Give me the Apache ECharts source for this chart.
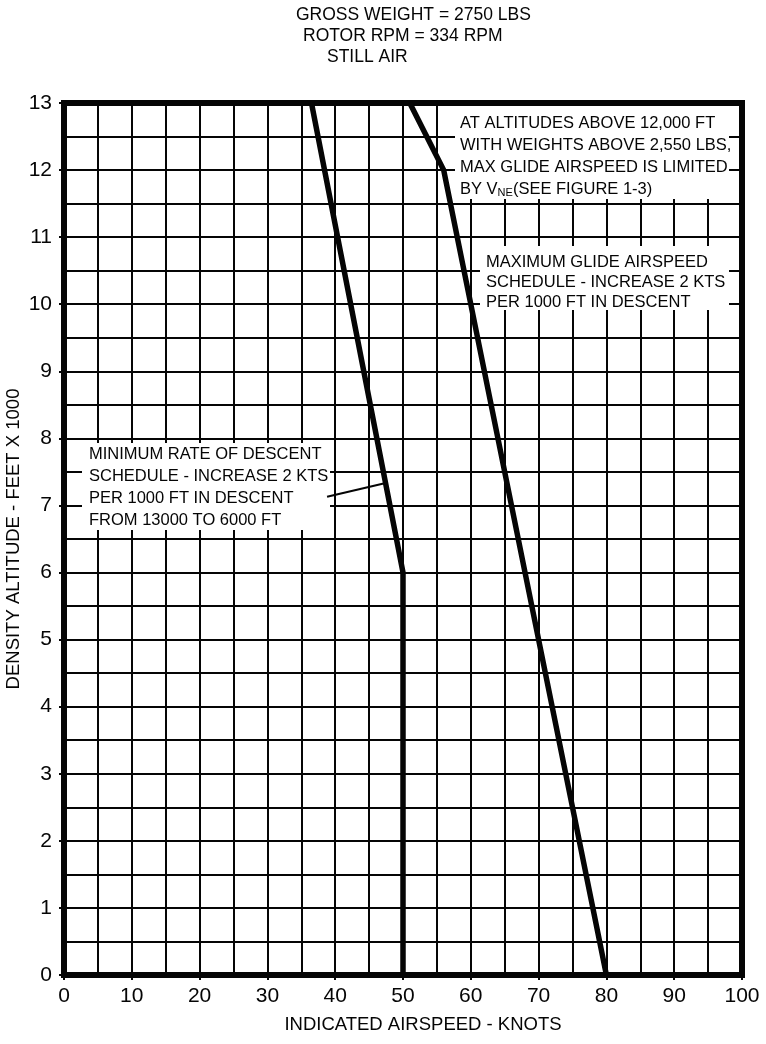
<!DOCTYPE html>
<html>
<head>
<meta charset="utf-8">
<title>Glide Distance Chart</title>
<script src="https://cdn.jsdelivr.net/npm/echarts@6/dist/echarts.min.js"></script>
<style>
  html, body { margin: 0; padding: 0; background: #fff; }
  #chart { width: 766px; height: 1044px; }
</style>
</head>
<body>
<div id="chart"></div>
<script>
// Axis ranges and tick steps (knots, feet x 1000)
const airspeedTicks = [0, 10, 20, 30, 40, 50, 60, 70, 80, 90, 100];
const altitudeTicks = [0, 1, 2, 3, 4, 5, 6, 7, 8, 9, 10, 11, 12, 13];

// Minimum rate of descent schedule: [airspeed kts, altitude x1000 ft]
const minDescentSpeed = [36.5, 50, 50];
const minDescentAlt   = [13, 6, 0];

// Maximum glide airspeed schedule (VNE-limited above 12,000 ft)
const maxGlideSpeed = [51, 56, 80];
const maxGlideAlt   = [13, 12, 0];

// Leader arrow from the minimum-descent note to its curve
const arrowSpeed = [38.8, 47.3];
const arrowAlt   = [7.13, 7.33];

const titleLines = ['GROSS WEIGHT = 2750 LBS', 'ROTOR RPM = 334 RPM', 'STILL AIR'];

const FONT = '"Liberation Sans", Arial, Helvetica, sans-serif';
const NARROW = '"Liberation Sans Narrow", "Arial Narrow", "Liberation Sans", Arial, sans-serif';
const INK = '#050505';

const pairs = (xs, ys) => xs.map((x, i) => [x, ys[i]]);

const chart = echarts.init(document.getElementById('chart'), null, { renderer: 'canvas' });

const gridLine = { color: INK, width: 2 };

chart.setOption({
  animation: false,
  backgroundColor: '#fff',
  grid: {
    left: 64, right: 24, top: 103, bottom: 69,
    outerBoundsMode: 'none',
    containLabel: false,
    show: true, borderColor: INK, borderWidth: 6, backgroundColor: 'transparent'
  },
  xAxis: {
    type: 'value',
    min: airspeedTicks[0],
    max: airspeedTicks[airspeedTicks.length - 1],
    interval: airspeedTicks[1] - airspeedTicks[0],
    name: 'INDICATED AIRSPEED - KNOTS',
    nameLocation: 'middle',
    nameGap: 40,
    nameMoveOverlap: false,
    nameTextStyle: { fontFamily: FONT, fontSize: 18.5, color: INK, padding: [0, 0, 0, 40] },
    axisLine: { show: false },
    axisTick: { show: true, length: 5, lineStyle: { color: INK, width: 2 } },
    axisLabel: { margin: 11, fontFamily: NARROW, fontSize: 21, color: INK },
    splitLine: { show: true, lineStyle: gridLine },
    minorTick: { show: false, splitNumber: 2 },
    minorSplitLine: { show: true, lineStyle: gridLine }
  },
  yAxis: {
    type: 'value',
    min: altitudeTicks[0],
    max: altitudeTicks[altitudeTicks.length - 1],
    interval: altitudeTicks[1] - altitudeTicks[0],
    name: 'DENSITY ALTITUDE - FEET X 1000',
    nameLocation: 'middle',
    nameGap: 41,
    nameMoveOverlap: false,
    nameTextStyle: { fontFamily: FONT, fontSize: 18.5, color: INK },
    axisLine: { show: false },
    axisTick: { show: true, length: 5, lineStyle: { color: INK, width: 2 } },
    axisLabel: { margin: 12, fontFamily: NARROW, fontSize: 21, color: INK },
    splitLine: { show: true, lineStyle: gridLine },
    minorTick: { show: false, splitNumber: 2 },
    minorSplitLine: { show: true, lineStyle: gridLine }
  },
  graphic: [
    // chart heading
    { type: 'text', left: 296, top: 6, z: 5,
      style: { text: titleLines[0], font: '17.5px ' + FONT, fill: INK } },
    { type: 'text', left: 303, top: 27, z: 5,
      style: { text: titleLines[1], font: '17.5px ' + FONT, fill: INK } },
    { type: 'text', left: 327, top: 48, z: 5,
      style: { text: titleLines[2], font: '17.5px ' + FONT, fill: INK } },

    // note: VNE limit above 12,000 ft
    { type: 'rect', z: 1, shape: { x: 455, y: 106, width: 274, height: 93 },
      style: { fill: '#fff' } },
    { type: 'text', x: 460, y: 112, z: 3,
      style: {
        text: 'AT ALTITUDES ABOVE 12,000 FT\nWITH WEIGHTS ABOVE 2,550 LBS,\nMAX GLIDE AIRSPEED IS LIMITED\nBY V{sub|NE}(SEE FIGURE 1-3)',
        font: '16.5px ' + FONT, fill: INK, lineHeight: 22,
        rich: { sub: { fontSize: 11, fontFamily: FONT, fill: INK, padding: [8, 0, 0, 0] } }
      } },

    // note: maximum glide schedule
    { type: 'rect', z: 1, shape: { x: 480, y: 246, width: 249, height: 64 },
      style: { fill: '#fff' } },
    { type: 'text', x: 486, y: 252, z: 3,
      style: {
        text: 'MAXIMUM GLIDE AIRSPEED\nSCHEDULE - INCREASE 2 KTS\nPER 1000 FT IN DESCENT',
        font: '16.5px ' + FONT, fill: INK, lineHeight: 20
      } },

    // note: minimum rate of descent schedule
    { type: 'rect', z: 1, shape: { x: 82, y: 443, width: 248, height: 87 },
      style: { fill: '#fff' } },
    { type: 'text', x: 89, y: 443, z: 3,
      style: {
        text: 'MINIMUM RATE OF DESCENT\nSCHEDULE - INCREASE 2 KTS\nPER 1000 FT IN DESCENT\nFROM 13000 TO 6000 FT',
        font: '16.5px ' + FONT, fill: INK, lineHeight: 22
      } }
  ],
  series: [
    {
      name: 'Minimum rate of descent',
      type: 'line',
      data: pairs(minDescentSpeed, minDescentAlt),
      showSymbol: false,
      z: 4,
      lineStyle: { color: INK, width: 5.5, cap: 'butt', join: 'miter' },
      markLine: {
        silent: true,
        symbol: ['none', 'arrow'],
        symbolSize: [0, 11],
        label: { show: false },
        lineStyle: { color: INK, width: 2, type: 'solid' },
        data: [[
          { coord: [arrowSpeed[0], arrowAlt[0]] },
          { coord: [arrowSpeed[1], arrowAlt[1]] }
        ]]
      }
    },
    {
      name: 'Maximum glide airspeed',
      type: 'line',
      data: pairs(maxGlideSpeed, maxGlideAlt),
      showSymbol: false,
      z: 4,
      lineStyle: { color: INK, width: 5.5, cap: 'butt', join: 'miter' }
    }
  ]
});
</script>
</body>
</html>
